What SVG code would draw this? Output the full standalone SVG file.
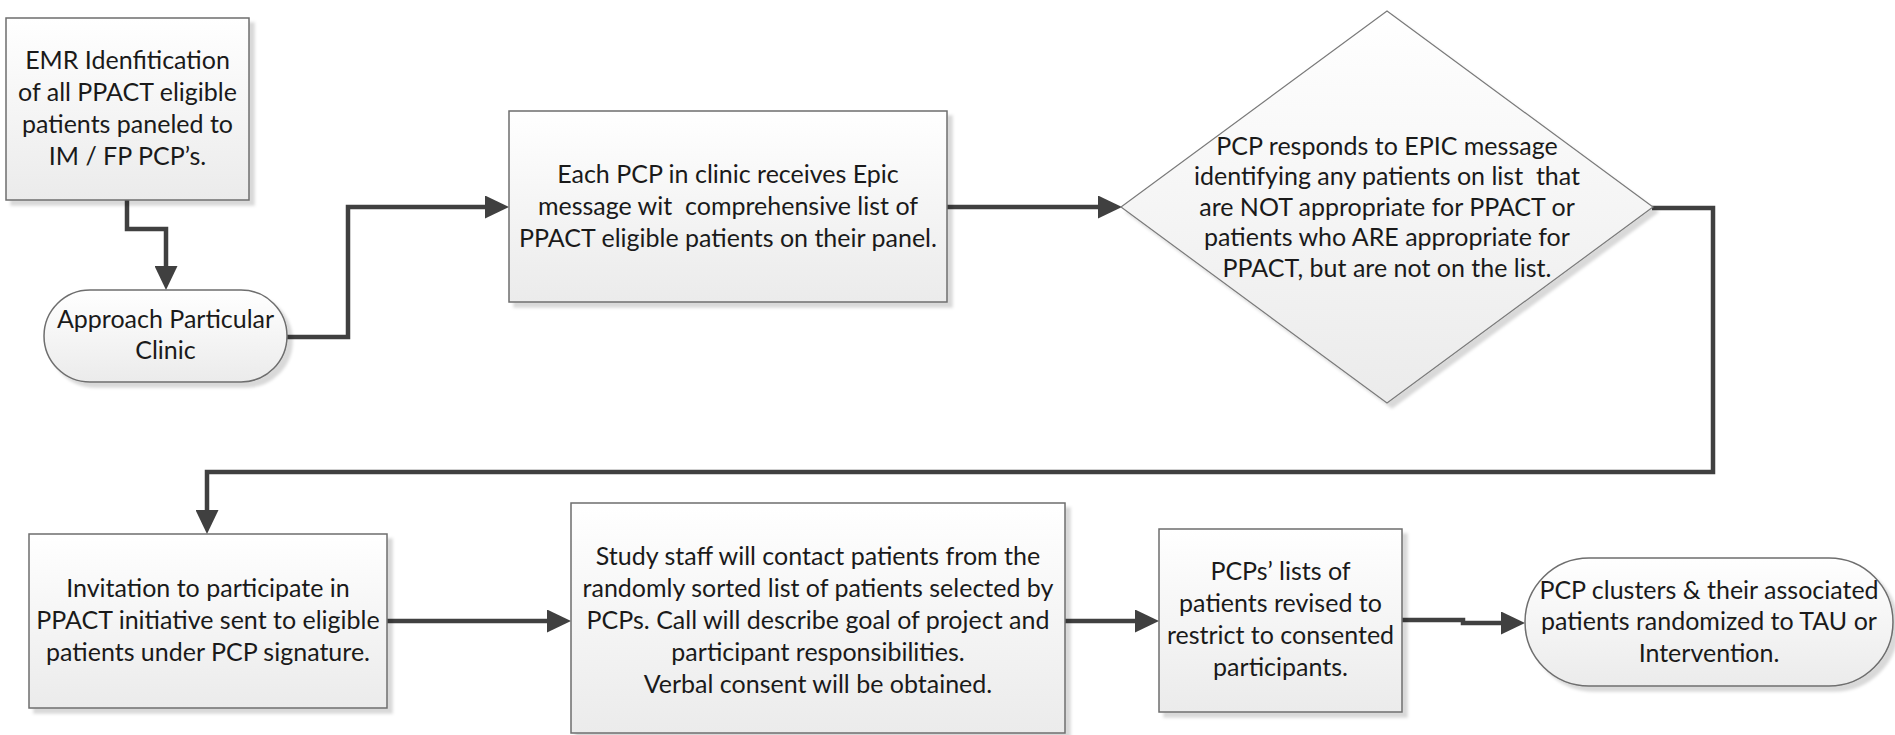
<svg xmlns="http://www.w3.org/2000/svg" width="1895" height="735" viewBox="0 0 1895 735">
<style>
.node{fill:url(#g);stroke:#6e6e6e;stroke-width:1.5;filter:url(#sh)}
.dia{fill:url(#g);stroke:#7a7a7a;stroke-width:1.2;filter:url(#sh)}
.t{font-family:Lato,"Liberation Sans",sans-serif;font-size:25px;fill:#1a1a1a;text-anchor:middle}
.c{fill:none;stroke:#404040;stroke-width:4.5;marker-end:url(#ah)}
</style>
<defs>
<linearGradient id="g" x1="0" y1="0" x2="0" y2="1">
<stop offset="0" stop-color="#ffffff"/>
<stop offset="1" stop-color="#ebebeb"/>
</linearGradient>
<filter id="sh" x="-5%" y="-5%" width="115%" height="115%">
<feOffset in="SourceAlpha" dx="5" dy="5" result="o"/>
<feGaussianBlur in="o" stdDeviation="1.5" result="b"/>
<feFlood flood-color="#000" flood-opacity="0.15"/>
<feComposite in2="b" operator="in" result="s"/>
<feMerge><feMergeNode in="s"/><feMergeNode in="SourceGraphic"/></feMerge>
</filter>
<marker id="ah" markerUnits="userSpaceOnUse" viewBox="0 0 24 23" markerWidth="24" markerHeight="23" refX="12" refY="11.5" orient="auto">
<path d="M0,0 L24,11.5 L0,23 Z" fill="#404040"/>
</marker>
</defs>

<g id="connectors">
<path class="c" d="M127,200 V229 H166 V278"/>
<path class="c" d="M287,337 H348 V207 H497"/>
<path class="c" d="M947,207 H1110"/>
<path class="c" d="M1652,208 H1713 V472 H207 V522"/>
<path class="c" d="M387,621 H559"/>
<path class="c" d="M1065,621 H1147"/>
<path class="c" d="M1402,620 H1463 V623 H1513"/>
</g>

<g id="n1">
<rect class="node" x="6" y="18" width="243" height="182"/>
<text class="t"><tspan x="127.5" y="69">EMR Idenfitication</tspan><tspan x="127.5" y="101">of all PPACT eligible</tspan><tspan x="127.5" y="133">patients paneled to</tspan><tspan x="127.5" y="165">IM / FP PCP’s.</tspan></text>
</g>

<g id="n2">
<rect class="node" x="44" y="290" width="243" height="92" rx="46" ry="46"/>
<text class="t"><tspan x="165.5" y="328">Approach Particular</tspan><tspan x="165.5" y="359">Clinic</tspan></text>
</g>

<g id="n3">
<rect class="node" x="509" y="111" width="438" height="191"/>
<text class="t" xml:space="preserve"><tspan x="728" y="183">Each PCP in clinic receives Epic</tspan><tspan x="728" y="215">message wit  comprehensive list of</tspan><tspan x="728" y="247">PPACT eligible patients on their panel.</tspan></text>
</g>

<g id="n4">
<polygon class="dia" points="1387,11 1653,207 1387,403 1121,207"/>
<text class="t" xml:space="preserve"><tspan x="1387" y="154.5">PCP responds to EPIC message</tspan><tspan x="1387" y="185">identifying any patients on list  that</tspan><tspan x="1387" y="215.5">are NOT appropriate for PPACT or</tspan><tspan x="1387" y="246">patients who ARE appropriate for</tspan><tspan x="1387" y="276.5">PPACT, but are not on the list.</tspan></text>
</g>

<g id="n5">
<rect class="node" x="29" y="534" width="358" height="174"/>
<text class="t"><tspan x="208" y="597">Invitation to participate in</tspan><tspan x="208" y="629">PPACT initiative sent to eligible</tspan><tspan x="208" y="661">patients under PCP signature.</tspan></text>
</g>

<g id="n6">
<rect class="node" x="571" y="503" width="494" height="230"/>
<text class="t"><tspan x="818" y="565">Study staff will contact patients from the</tspan><tspan x="818" y="597">randomly sorted list of patients selected by</tspan><tspan x="818" y="629">PCPs. Call will describe goal of project and</tspan><tspan x="818" y="661">participant responsibilities.</tspan><tspan x="818" y="693">Verbal consent will be obtained.</tspan></text>
</g>

<g id="n7">
<rect class="node" x="1159" y="529" width="243" height="183"/>
<text class="t"><tspan x="1280.5" y="580">PCPs’ lists of</tspan><tspan x="1280.5" y="612">patients revised to</tspan><tspan x="1280.5" y="644">restrict to consented</tspan><tspan x="1280.5" y="676">participants.</tspan></text>
</g>

<g id="n8">
<rect class="node" x="1525" y="558" width="368" height="128" rx="64" ry="64"/>
<text class="t"><tspan x="1709" y="599">PCP clusters &amp; their associated</tspan><tspan x="1709" y="630">patients randomized to TAU or</tspan><tspan x="1709" y="662">Intervention.</tspan></text>
</g>
</svg>
